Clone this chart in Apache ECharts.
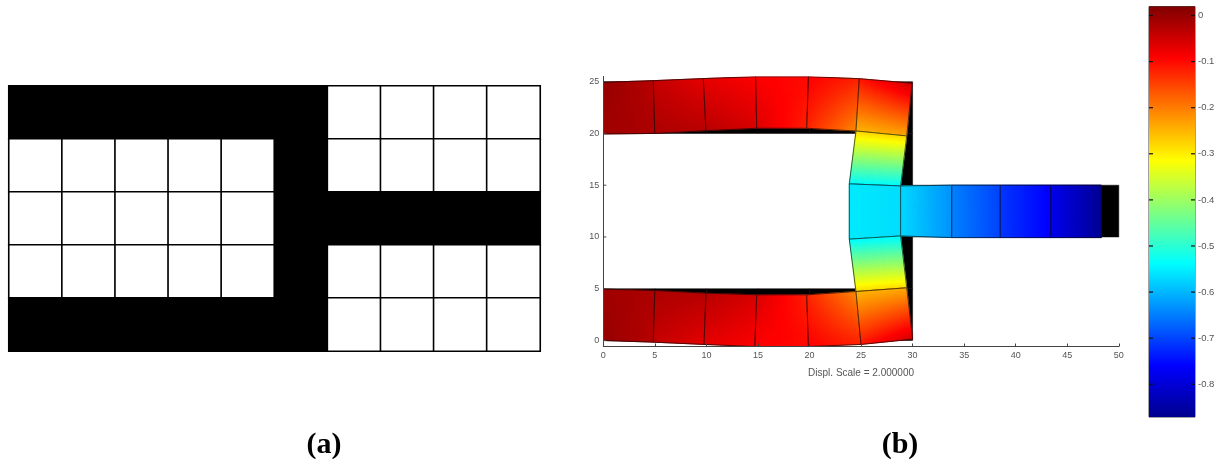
<!DOCTYPE html>
<html><head><meta charset="utf-8">
<style>html,body{margin:0;padding:0;background:#fff}#c{width:1223px;height:463px}</style>
<script src="https://cdn.jsdelivr.net/npm/echarts@6/dist/echarts.min.js"></script>
</head><body><div id="c"></div>
<script>
// Panel (a): topology grid, top row first (1 = solid, 0 = void)
const topologyRows = [
  [1,1,1,1,1,1,0,0,0,0],
  [0,0,0,0,0,1,0,0,0,0],
  [0,0,0,0,0,1,1,1,1,1],
  [0,0,0,0,0,1,0,0,0,0],
  [1,1,1,1,1,1,0,0,0,0]
];
// Panel (b): undeformed mesh nodes
const nodeX = [0,5,10,15,20,25,30, 0,5,10,15,20,25,30, 25,30, 25,30, 0,5,10,15,20,25,30, 0,5,10,15,20,25,30, 35,40,45,50, 35,40,45,50];
const nodeY = [25,25,25,25,25,25,25, 20,20,20,20,20,20,20, 15,15, 10,10, 5,5,5,5,5,5,5, 0,0,0,0,0,0,0, 15,15,15,15, 10,10,10,10];
// Panel (b): deformed node positions
const defX = [0,4.85,9.7,14.78,19.9,24.83,29.95, 0,5,9.96,14.88,19.73,24.51,29.43, 23.86,28.84, 23.86,28.84, 0,5,9.96,14.88,19.73,24.51,29.43, 0,4.85,9.77,14.7,19.9,25,30, 33.8,38.5,43.4,48.3, 33.8,38.5,43.4,48.3];
const defY = [24.94,25.1,25.3,25.48,25.48,25.29,24.85, 19.95,20,20.27,20.5,20.5,20.24,19.76, 15.13,14.93, 9.79,10.1, 4.96,4.83,4.57,4.41,4.41,4.73,5.09, 0,-0.16,-0.38,-0.58,-0.58,-0.38,0.13, 15,15,15,15, 9.94,9.94,9.94,9.94];
// Element corners: bottom-left, bottom-right, top-right, top-left
const elemNodes = [
  [7,8,1,0],[8,9,2,1],[9,10,3,2],[10,11,4,3],[11,12,5,4],[12,13,6,5],
  [14,15,13,12],[16,17,15,14],[17,36,32,15],[36,37,33,32],[37,38,34,33],[38,39,35,34],
  [23,24,17,16],
  [25,26,19,18],[26,27,20,19],[27,28,21,20],[28,29,22,21],[29,30,23,22],[30,31,24,23]
];
// Element corner values (same order as elemNodes)
const elemValues = [
  [-0.01,-0.02,-0.03,0.0],[-0.02,-0.03,-0.07,-0.04],[-0.03,-0.06,-0.09,-0.07],[-0.06,-0.12,-0.10,-0.09],[-0.12,-0.21,-0.12,-0.09],[-0.25,-0.24,-0.05,-0.11],
  [-0.54,-0.54,-0.28,-0.28],[-0.555,-0.565,-0.565,-0.555],[-0.57,-0.63,-0.63,-0.57],[-0.645,-0.70,-0.70,-0.645],[-0.71,-0.76,-0.76,-0.71],[-0.775,-0.865,-0.865,-0.775],
  [-0.28,-0.28,-0.54,-0.54],
  [0.0,-0.03,-0.02,-0.01],[-0.04,-0.07,-0.03,-0.02],[-0.07,-0.09,-0.06,-0.03],[-0.09,-0.10,-0.12,-0.06],[-0.09,-0.12,-0.21,-0.12],[-0.11,-0.05,-0.24,-0.25]
];
// Axis ticks
const yTicks = [0,5,10,15,20,25];
const barTicks = [0,-0.1,-0.2,-0.3,-0.4,-0.5,-0.6,-0.7,-0.8];
const barMin = -0.871, barMax = 0.0195;
// Jet colour stops: position (0 bottom, 1 top) and rgb
const jetPos = [0,0.125,0.375,0.625,0.875,1];
const jetRgb = [[0,0,143],[0,0,255],[0,255,255],[255,255,0],[255,0,0],[128,0,0]];

function jet(v){
  const t = Math.max(0,Math.min(1,(v-barMin)/(barMax-barMin)));
  let i = 0; while(i<jetPos.length-2 && t>jetPos[i+1]) i++;
  const f=(t-jetPos[i])/(jetPos[i+1]-jetPos[i]), a=jetRgb[i], b=jetRgb[i+1];
  return 'rgb('+[0,1,2].map(k=>Math.round(a[k]+(b[k]-a[k])*f)).join(',')+')';
}
const heatData=[];
topologyRows.forEach((r,ri)=>r.forEach((v,ci)=>heatData.push([ci,4-ri,v])));
const meshData = elemNodes.map((n,i)=>[
  defX[n[0]],defY[n[0]],defX[n[1]],defY[n[1]],defX[n[2]],defY[n[2]],defX[n[3]],defY[n[3]],
  elemValues[i][0],elemValues[i][1],elemValues[i][2],elemValues[i][3]]);
const baseData = elemNodes.map(n=>[
  nodeX[n[0]],nodeY[n[0]],nodeX[n[1]],nodeY[n[1]],nodeX[n[2]],nodeY[n[2]],nodeX[n[3]],nodeY[n[3]]]);

function corners(api){
  return [0,2,4,6].map(k=>api.coord([api.value(k),api.value(k+1)]));
}
function renderBase(p,api){
  return {type:'polygon',shape:{points:corners(api)},style:{fill:'#000',stroke:'#000',lineWidth:0.5}};
}
const N=26;
function renderMesh(p,api){
  const c=corners(api), v=[8,9,10,11].map(k=>api.value(k));
  const bl=(a,u,w)=>a[0]*(1-u)*(1-w)+a[1]*u*(1-w)+a[2]*u*w+a[3]*(1-u)*w;
  const pt=(u,w)=>[bl(c.map(q=>q[0]),u,w),bl(c.map(q=>q[1]),u,w)];
  const kids=[];
  for(let i=0;i<N;i++)for(let j=0;j<N;j++){
    const col=jet(bl(v,(i+.5)/N,(j+.5)/N));
    kids.push({type:'polygon',shape:{points:[pt(i/N,j/N),pt((i+1)/N,j/N),pt((i+1)/N,(j+1)/N),pt(i/N,(j+1)/N)]},
      style:{fill:col,stroke:col,lineWidth:1},silent:true});
  }
  kids.push({type:'polygon',shape:{points:c},style:{fill:'none',stroke:'rgba(10,10,10,0.75)',lineWidth:0.9},silent:true});
  return {type:'group',children:kids};
}
function renderBar(p,api){
  const a=api.coord([0,api.value(1)]), b=api.coord([1,api.value(0)]);
  const stops=jetPos.map((t,i)=>({offset:1-t,color:'rgb('+jetRgb[i].join(',')+')'})).reverse();
  return {type:'rect',shape:{x:a[0],y:a[1],width:b[0]-a[0],height:b[1]-a[1]},
    style:{fill:new echarts.graphic.LinearGradient(0,0,0,1,stops)}};
}
// Inward ticks on both sides of the colour bar
function renderBarTick(p,api){
  const l=api.coord([0,api.value(0)]), r=api.coord([1,api.value(0)]);
  const s={stroke:'#111',lineWidth:1.2};
  return {type:'group',children:[
    {type:'line',shape:{x1:l[0],y1:l[1],x2:l[0]+4,y2:l[1]},style:s},
    {type:'line',shape:{x1:r[0]-4,y1:r[1],x2:r[0],y2:r[1]},style:s}]};
}
// Inward ticks on the y axis of panel (b)
function renderYTick(p,api){
  const a=api.coord([0,api.value(0)]);
  return {type:'line',shape:{x1:a[0],y1:a[1],x2:a[0]+3,y2:a[1]},style:{stroke:'#444',lineWidth:1}};
}
const tickGray='#555';
const font='"Liberation Sans",Arial,sans-serif';
const capStyle={fontFamily:'"Liberation Serif",serif',fontWeight:'bold',fontSize:30,color:'#000'};
const chart=echarts.init(document.getElementById('c'),null,{renderer:'canvas'});
chart.setOption({
  animation:false,backgroundColor:'#fff',
  title:[
    {text:'(a)',left:324,top:430,padding:0,textAlign:'center',textStyle:capStyle},
    {text:'(b)',left:900,top:430,padding:0,textAlign:'center',textStyle:capStyle}
  ],
  visualMap:{show:false,type:'piecewise',seriesIndex:0,dimension:2,pieces:[{value:0,color:'#fff'},{value:1,color:'#000'}]},
  grid:[
    {left:9,top:86,width:531,height:265,containLabel:false},
    {left:603.3,top:76.5,width:515.5,height:270,containLabel:false},
    {left:1149,top:6.5,width:46,height:410.5,containLabel:false,show:true,borderColor:'#444',borderWidth:1,backgroundColor:'transparent'}
  ],
  xAxis:[
    {gridIndex:0,type:'category',data:[0,1,2,3,4,5,6,7,8,9],show:false},
    {gridIndex:1,type:'value',min:0,max:50,interval:5,z:10,
      name:'Displ. Scale = 2.000000',nameLocation:'middle',nameGap:22,nameTextStyle:{fontFamily:font,fontSize:10,color:tickGray},
      axisLine:{show:true,onZero:false,lineStyle:{color:'#444',width:1}},axisTick:{show:true,inside:true,length:3,lineStyle:{color:'#444'}},
      axisLabel:{show:true,margin:5,fontFamily:font,fontSize:9,color:tickGray},splitLine:{show:false}},
    {gridIndex:2,type:'value',min:0,max:1,show:false}
  ],
  yAxis:[
    {gridIndex:0,type:'category',data:[0,1,2,3,4],show:false},
    {gridIndex:1,type:'value',min:-0.58,max:25.5,z:10,
      axisLine:{show:true,onZero:false,lineStyle:{color:'#444',width:1}},
      axisTick:{show:false},
      axisLabel:{show:true,margin:4,customValues:yTicks,fontFamily:font,fontSize:9,color:tickGray,showMinLabel:true,showMaxLabel:true},splitLine:{show:false}},
    {gridIndex:2,type:'value',min:barMin,max:barMax,position:'right',z:10,
      axisLine:{show:false},axisTick:{show:false},
      axisLabel:{show:true,margin:3,customValues:barTicks,fontFamily:font,fontSize:9.5,color:tickGray,formatter:v=>String(v)},splitLine:{show:false}}
  ],
  series:[
    {type:'heatmap',xAxisIndex:0,yAxisIndex:0,data:heatData,itemStyle:{borderColor:'#000',borderWidth:1.6},silent:true},
    {type:'custom',xAxisIndex:1,yAxisIndex:1,clip:true,data:baseData,encode:{x:[0,2,4,6],y:[1,3,5,7]},renderItem:renderBase,silent:true},
    {type:'custom',xAxisIndex:1,yAxisIndex:1,clip:true,data:meshData,encode:{x:[0,2,4,6],y:[1,3,5,7]},renderItem:renderMesh,silent:true},
    {type:'custom',xAxisIndex:1,yAxisIndex:1,z:5,data:yTicks.map(v=>[v]),encode:{y:0},renderItem:renderYTick,silent:true},
    {type:'custom',xAxisIndex:2,yAxisIndex:2,data:[[barMin,barMax]],encode:{y:[0,1]},renderItem:renderBar,silent:true},
    {type:'custom',xAxisIndex:2,yAxisIndex:2,z:5,data:barTicks.map(v=>[v]),encode:{y:0},renderItem:renderBarTick,silent:true}
  ]
});
</script></body></html>
